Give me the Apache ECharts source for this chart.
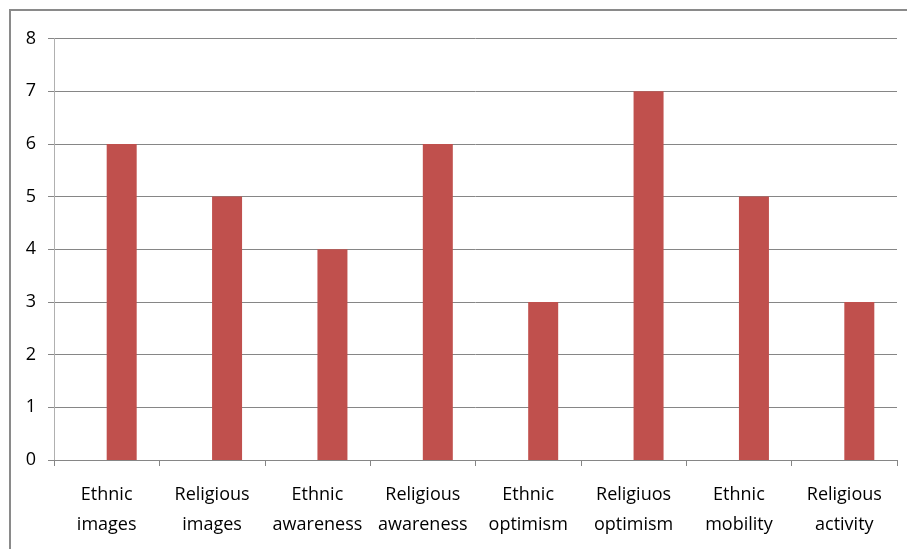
<!DOCTYPE html>
<html><head><meta charset="utf-8">
<script src="https://cdn.jsdelivr.net/npm/echarts@6/dist/echarts.min.js"></script>
<style>html,body{margin:0;padding:0;background:#fff}#c{width:907px;height:549px}</style>
</head><body><div id="c"></div>
<script>
const categories = ["Ethnic\nimages","Religious\nimages","Ethnic\nawareness","Religious\nawareness","Ethnic\noptimism","Religiuos\noptimism","Ethnic\nmobility","Religious\nactivity"];
const values = [6,5,4,6,3,7,5,3];
const blankSeries = [null,null,null,null,null,null,null,null];
const yTicks = {min:0,max:8,interval:1};
const font = '"Open Sans", sans-serif';
const chart = echarts.init(document.getElementById('c'));
chart.setOption({
  animation:false,
  graphic:[{type:'rect',shape:{x:10,y:10,width:920,height:560},style:{fill:'none',stroke:'#8a8a8a',lineWidth:2},silent:true}],
  grid:{left:54,right:10,top:38.5,bottom:89},
  xAxis:{type:'category',data:categories,
    axisLine:{lineStyle:{color:'#868686',width:1}},
    axisTick:{show:true,length:6,lineStyle:{color:'#868686'}},
    axisLabel:{color:'#000',fontSize:18,fontFamily:font,lineHeight:30,margin:20,interval:0}},
  yAxis:{type:'value',min:yTicks.min,max:yTicks.max,interval:yTicks.interval,
    axisLine:{show:true,lineStyle:{color:'#b0b0b0'}},
    axisTick:{show:true,length:6,lineStyle:{color:'#868686'}},
    splitLine:{lineStyle:{color:'#868686'}},
    axisLabel:{color:'#000',fontSize:18,fontFamily:font,margin:18}},
  series:[
    {type:'bar',data:blankSeries,barWidth:30,barGap:'0%',itemStyle:{color:'#4F81BD'}},
    {type:'bar',data:values,barWidth:30,barGap:'0%',itemStyle:{color:'#C0504D'}}
  ]
});
</script></body></html>
